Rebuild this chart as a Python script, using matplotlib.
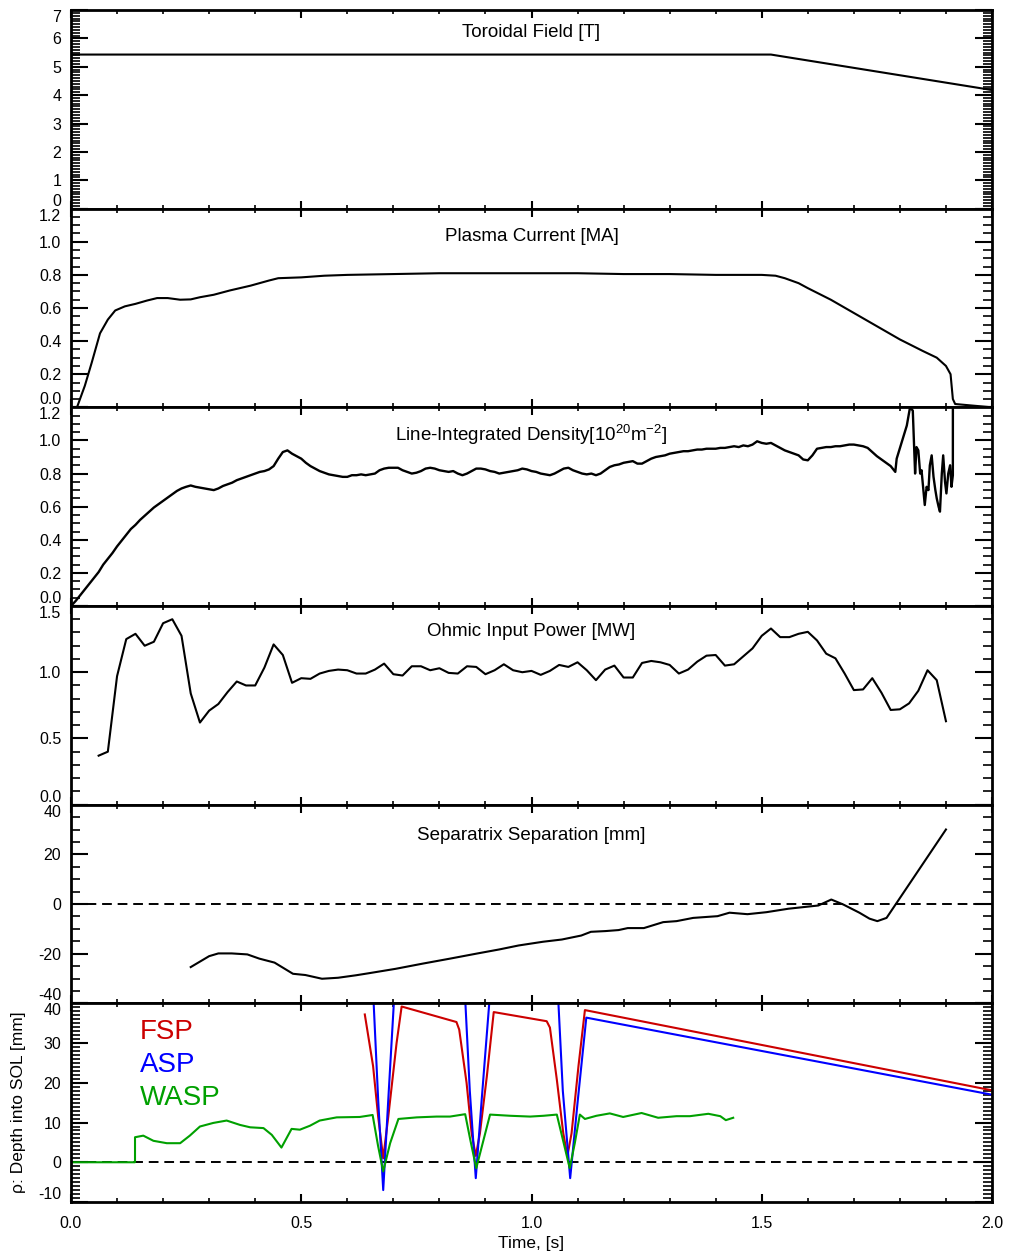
import matplotlib
matplotlib.use("Agg")
import matplotlib.pyplot as plt
import numpy as np
from matplotlib.ticker import MultipleLocator

plt.rcParams['font.family'] = ['Liberation Sans', 'DejaVu Sans']
plt.rcParams['mathtext.fontset'] = 'custom'
plt.rcParams['mathtext.rm'] = 'Liberation Sans'
plt.rcParams['mathtext.it'] = 'Liberation Sans'
plt.rcParams['axes.unicode_minus'] = False

# ---- toroidal field [T]
bt_t = [0.0, 1.52, 2.0]
bt_v = [5.43, 5.43, 4.18]

# ---- plasma current [MA]
ip_t = [0.0, 0.013, 0.03, 0.045, 0.063, 0.08, 0.096, 0.117, 0.14, 0.165, 0.187, 0.21,
        0.237, 0.26, 0.28, 0.31, 0.345, 0.39, 0.43, 0.45, 0.5, 0.55, 0.6, 0.7, 0.8,
        0.9, 1.0, 1.1, 1.2, 1.3, 1.4, 1.5, 1.53, 1.55, 1.58, 1.6, 1.65, 1.7, 1.75,
        1.8, 1.85, 1.88, 1.9, 1.91, 1.915, 1.92, 1.96, 2.0]
ip_v = [0.0, 0.0, 0.13, 0.27, 0.447, 0.53, 0.585, 0.61, 0.625, 0.645, 0.66, 0.66,
        0.65, 0.652, 0.665, 0.68, 0.706, 0.735, 0.766, 0.78, 0.785, 0.795, 0.80, 0.805, 0.81,
        0.81, 0.81, 0.81, 0.805, 0.805, 0.80, 0.80, 0.795, 0.78, 0.75, 0.72, 0.65, 0.57, 0.49,
        0.41, 0.34, 0.30, 0.25, 0.20, 0.05, 0.02, 0.01, 0.0]

# ---- line-integrated density [1e20 m^-2], 10 ms samples up to 1.79 s
ne_v = [0.00, 0.03, 0.065, 0.10, 0.135, 0.17, 0.205, 0.25, 0.285, 0.32,
        0.36, 0.395, 0.43, 0.465, 0.49, 0.52, 0.545, 0.57, 0.595, 0.615,
        0.635, 0.655, 0.675, 0.695, 0.71, 0.72, 0.728, 0.72, 0.715, 0.71,
        0.705, 0.70, 0.71, 0.725, 0.735, 0.745, 0.76, 0.77, 0.78, 0.79,
        0.80, 0.81, 0.815, 0.825, 0.845, 0.89, 0.93, 0.94, 0.92, 0.905,
        0.89, 0.865, 0.845, 0.83, 0.815, 0.805, 0.795, 0.79, 0.785, 0.78,
        0.78, 0.79, 0.79, 0.795, 0.79, 0.795, 0.80, 0.82, 0.83, 0.835,
        0.835, 0.835, 0.82, 0.81, 0.80, 0.805, 0.815, 0.83, 0.835, 0.83,
        0.82, 0.815, 0.81, 0.815, 0.80, 0.79, 0.80, 0.815, 0.83, 0.83,
        0.825, 0.815, 0.81, 0.80, 0.805, 0.81, 0.815, 0.82, 0.83, 0.825,
        0.815, 0.81, 0.80, 0.795, 0.79, 0.80, 0.815, 0.83, 0.835, 0.82,
        0.81, 0.80, 0.795, 0.80, 0.79, 0.80, 0.82, 0.84, 0.85, 0.855,
        0.865, 0.87, 0.875, 0.86, 0.86, 0.875, 0.89, 0.90, 0.905, 0.91,
        0.92, 0.925, 0.93, 0.935, 0.935, 0.94, 0.945, 0.945, 0.95, 0.95,
        0.95, 0.955, 0.955, 0.96, 0.965, 0.96, 0.97, 0.965, 0.975, 0.995,
        0.985, 0.98, 0.985, 0.97, 0.955, 0.94, 0.93, 0.92, 0.91, 0.885,
        0.88, 0.91, 0.95, 0.955, 0.96, 0.96, 0.965, 0.965, 0.97, 0.975,
        0.975, 0.97, 0.965, 0.955, 0.93, 0.905, 0.885, 0.865, 0.845, 0.81]
ne_t = [i * 0.01 for i in range(len(ne_v))]
# disruption phase
ne_t2 = [1.793, 1.815, 1.822, 1.828, 1.833, 1.836, 1.840, 1.844, 1.847, 1.851, 1.854,
         1.858, 1.862, 1.865, 1.869, 1.873, 1.877, 1.880, 1.884, 1.887, 1.891, 1.894,
         1.898, 1.901, 1.905, 1.909, 1.912, 1.915, 1.9151]
ne_v2 = [0.89, 1.09, 1.20, 1.18, 0.80, 0.96, 0.94, 0.80, 0.82, 0.70, 0.61,
         0.72, 0.70, 0.85, 0.91, 0.78, 0.70, 0.65, 0.60, 0.57, 0.80, 0.91,
         0.75, 0.68, 0.80, 0.85, 0.72, 0.79, 1.50]

# ---- ohmic input power [MW], 20 ms samples from 0.06 s
poh_v = [0.37, 0.40, 0.97, 1.25, 1.29, 1.20, 1.23, 1.37, 1.40, 1.275,
         0.84, 0.62, 0.71, 0.76, 0.85, 0.93, 0.90, 0.90, 1.035, 1.21,
         1.13, 0.92, 0.955, 0.95, 0.99, 1.01, 1.02, 1.015, 0.99, 0.99,
         1.02, 1.065, 0.985, 0.975, 1.045, 1.045, 1.015, 1.03, 0.995, 0.99,
         1.045, 1.04, 0.985, 1.015, 1.06, 1.015, 1.0, 1.01, 0.98, 1.01,
         1.055, 1.04, 1.075, 1.015, 0.94, 1.02, 1.05, 0.96, 0.96, 1.07,
         1.085, 1.075, 1.055, 0.99, 1.02, 1.08, 1.125, 1.13, 1.05, 1.06,
         1.12, 1.18, 1.275, 1.33, 1.265, 1.265, 1.29, 1.305, 1.24, 1.14,
         1.105, 0.99, 0.865, 0.87, 0.955, 0.845, 0.715, 0.72, 0.765, 0.86,
         1.015, 0.94, 0.63]
poh_t = [0.06 + i * 0.02 for i in range(len(poh_v))]

# ---- separatrix separation [mm]
ssep_t = [0.26, 0.30, 0.32, 0.349, 0.383, 0.409, 0.442, 0.482, 0.509, 0.545, 0.58,
          0.619, 0.646, 0.705, 0.764, 0.823, 0.883, 0.93, 0.972, 1.025, 1.066, 1.108,
          1.129, 1.161, 1.189, 1.209, 1.244, 1.286, 1.315, 1.351, 1.404, 1.43, 1.469,
          1.51, 1.558, 1.623, 1.651, 1.677, 1.712, 1.734, 1.751, 1.771, 1.90]
ssep_v = [-25.4, -21.0, -19.9, -19.9, -20.3, -22.0, -23.6, -28.1, -28.6, -30.1, -29.7,
          -28.7, -27.9, -26.1, -24.0, -22.0, -19.9, -18.3, -16.7, -15.2, -14.3, -12.7,
          -11.2, -10.9, -10.5, -9.7, -9.7, -7.3, -6.9, -5.6, -4.9, -3.5, -4.1,
          -3.3, -1.9, -0.6, 1.8, -0.2, -3.5, -5.9, -6.9, -5.6, 30.0]

# ---- strike point depth into SOL [mm]
fsp_t = [0.638, 0.656, 0.667, 0.678, 0.689, 0.707, 0.718, 0.837, 0.843, 0.859, 0.870,
         0.879, 0.888, 0.903, 0.918, 1.033, 1.040, 1.055, 1.069, 1.078, 1.087, 1.102,
         1.116, 2.0]
fsp_v = [37.2, 24.2, 11.5, 1.0, 11.5, 30.0, 39.2, 35.3, 33.4, 20.0, 7.3,
         1.6, 7.3, 21.6, 37.8, 35.5, 33.9, 20.8, 7.3, 1.6, 7.3, 24.2,
         38.3, 18.1]

asp_t = [0.650, 0.667, 0.678, 0.689, 0.706, 0.80, 0.850, 0.866, 0.879, 0.892, 0.915,
         1.00, 1.052, 1.068, 1.084, 1.100, 1.119, 2.0]
asp_v = [58.0, 15.8, -7.0, 15.8, 50.0, 60.0, 55.0, 18.0, -4.0, 16.0, 50.0,
         60.0, 55.0, 18.0, -4.0, 15.0, 36.4, 17.0]

wasp_t = [0.0, 0.139, 0.139, 0.157, 0.179, 0.208, 0.237, 0.258, 0.280, 0.309, 0.338,
          0.367, 0.389, 0.418, 0.436, 0.457, 0.479, 0.497, 0.519, 0.54, 0.577, 0.627,
          0.655, 0.667, 0.678, 0.693, 0.711, 0.751, 0.794, 0.823, 0.856, 0.867, 0.880,
          0.896, 0.91, 0.954, 0.997, 1.026, 1.055, 1.07, 1.083, 1.094, 1.105, 1.116,
          1.141, 1.17, 1.199, 1.239, 1.275, 1.315, 1.344, 1.384, 1.41, 1.422, 1.438]
wasp_v = [0.0, 0.0, 6.3, 6.7, 5.4, 4.8, 4.8, 6.7, 9.0, 9.9, 10.5,
          9.4, 8.8, 8.6, 6.9, 3.7, 8.4, 8.2, 9.2, 10.5, 11.3, 11.4,
          11.9, 4.0, -2.3, 4.8, 10.9, 11.3, 11.5, 11.5, 12.1, 5.7, -1.5,
          5.7, 12.0, 11.7, 11.5, 11.7, 12.0, 4.8, -1.5, 4.8, 12.0, 10.9,
          11.7, 12.3, 11.4, 12.4, 11.2, 11.6, 11.6, 12.2, 11.6, 10.6, 11.2]

titles = ['Toroidal Field [T]', 'Plasma Current [MA]',
          'Line-Integrated Density[10$^{20}$m$^{-2}$]', 'Ohmic Input Power [MW]',
          'Separatrix Separation [mm]', '']
ylims = [(0, 7), (0, 1.2), (0, 1.2), (0, 1.5), (-40, 40), (-10, 40)]
ymajor = [1, 0.2, 0.2, 0.5, 20, 10]
yminor = [0.1, 0.05, 0.05, 0.1, 5, 1]
yfmt = ['%d', '%.1f', '%.1f', '%.1f', '%d', '%d']
title_y = [0.885, 0.86, 0.86, 0.87, 0.845, 0.9]

fig = plt.figure(figsize=(10.11, 12.57), dpi=100)
W, H = 1011.0, 1257.0
left, right = 71 / W, 992 / W
top_px, bot_px = 10.0, 1202.0
ph = (bot_px - top_px) / 6

axes = []
for i in range(6):
    y0 = 1 - (top_px + (i + 1) * ph) / H
    ax = fig.add_axes([left, y0, right - left, ph / H])
    ax.set_xlim(0, 2.0)
    lo, hi = ylims[i]
    ticks = np.arange(lo, hi + ymajor[i] / 2, ymajor[i])
    ax.set_yticks(ticks)
    ax.set_yticklabels([yfmt[i] % v for v in ticks])
    ax.set_ylim(lo, hi)
    ax.xaxis.set_major_locator(MultipleLocator(0.5))
    ax.xaxis.set_minor_locator(MultipleLocator(0.1))
    ax.yaxis.set_minor_locator(MultipleLocator(yminor[i]))
    ax.tick_params(axis='both', which='both', direction='in', top=True, right=True,
                   labelsize=11.5, colors='black')
    ax.tick_params(axis='x', which='major', length=6, width=1.5, pad=10)
    ax.tick_params(axis='x', which='minor', length=3, width=1.2)
    ax.tick_params(axis='y', which='major', length=12, width=1.5, pad=7)
    ax.tick_params(axis='y', which='minor', length=6.5, width=1.2)
    labs = ax.get_yticklabels()
    labs[0].set_va('bottom')
    labs[-1].set_va('top')
    for s in ax.spines.values():
        s.set_linewidth(2.0)
    if i < 5:
        ax.tick_params(axis='x', labelbottom=False)
    if titles[i]:
        ax.text(0.5, title_y[i], titles[i], transform=ax.transAxes,
                ha='center', va='center', fontsize=13.5)
    axes.append(ax)

lw = 1.5
axes[0].plot(bt_t, bt_v, color='black', lw=lw)
axes[1].plot(ip_t, ip_v, color='black', lw=lw)
axes[2].plot(ne_t + ne_t2, ne_v + ne_v2, color='black', lw=1.7)
axes[3].plot(poh_t, poh_v, color='black', lw=lw)
axes[4].axhline(0, color='black', lw=1.4, ls=(0, (5, 3)))
axes[4].plot(ssep_t, ssep_v, color='black', lw=lw)

ax = axes[5]
ax.axhline(0, color='black', lw=1.4, ls=(0, (5, 3)))
red, blue, green = '#CC0000', '#0000FF', '#00A000'
ax.plot(fsp_t, fsp_v, color=red, lw=lw)
ax.plot(asp_t, asp_v, color=blue, lw=lw)
ax.plot(wasp_t, wasp_v, color=green, lw=lw)
ax.text(0.15, 32.7, 'FSP', color=red, fontsize=20, va='center')
ax.text(0.15, 24.4, 'ASP', color=blue, fontsize=20, va='center')
ax.text(0.15, 16.3, 'WASP', color=green, fontsize=20, va='center')
ax.set_ylabel('ρ: Depth into SOL [mm]', fontsize=12.5, labelpad=9)
ax.set_xlabel('Time, [s]', fontsize=12.5, labelpad=4)

fig.savefig('out.png', dpi=100)
